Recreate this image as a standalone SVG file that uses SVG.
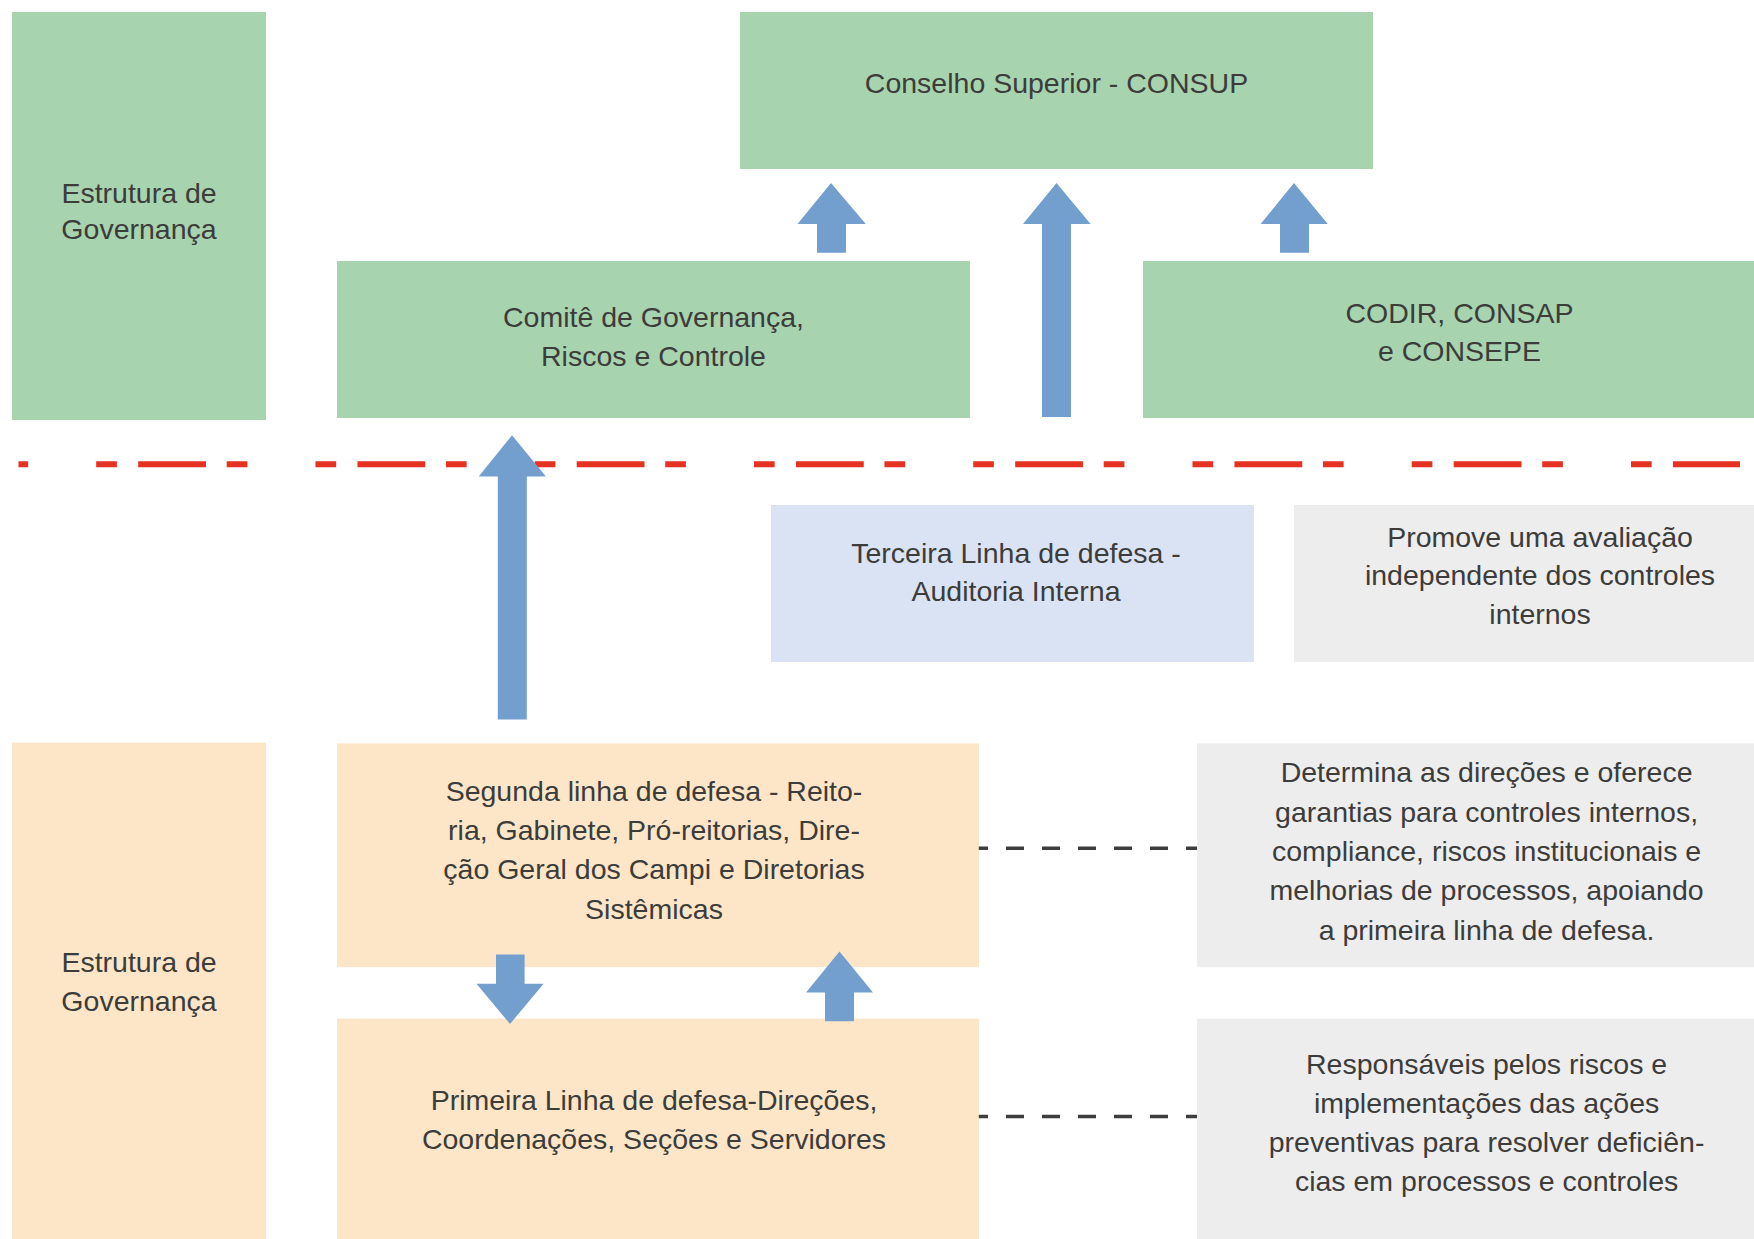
<svg xmlns="http://www.w3.org/2000/svg" width="1754" height="1239" viewBox="0 0 1754 1239">
<style>
.t{font-family:"Liberation Sans",Arial,sans-serif;font-size:28.5px;fill:#3c3c3b;text-anchor:middle}
.green{fill:#a8d3af}
.orange{fill:#fde6c7}
.blue{fill:#dae3f3}
.gray{fill:#ededed}
.arrow{fill:#739fcf}
.red{stroke:#e63222;stroke-width:6;fill:none}
.dash{stroke:#3d3d3d;stroke-width:3.5;fill:none;stroke-dasharray:18 18}
</style>
<rect width="1754" height="1239" fill="#ffffff"/>
<g id="estrutura-top">
<rect class="green" x="12" y="12" width="254" height="408"/>
<text class="t" x="139" y="202.5">Estrutura de</text>
<text class="t" x="139" y="239.2">Governança</text>
</g>
<g id="consup">
<rect class="green" x="740" y="12" width="633" height="157"/>
<text class="t" x="1056.5" y="93">Conselho Superior - CONSUP</text>
</g>
<g id="comite">
<rect class="green" x="337" y="261" width="633" height="157"/>
<text class="t" x="653.5" y="327.4">Comitê de Governança,</text>
<text class="t" x="653.5" y="366.2">Riscos e Controle</text>
</g>
<g id="codir">
<rect class="green" x="1143" y="261" width="611" height="157"/>
<text class="t" x="1459.5" y="323.4">CODIR, CONSAP</text>
<text class="t" x="1459.5" y="361.4">e CONSEPE</text>
</g>
<g id="divisor">
<line class="red" x1="18.5" y1="464.3" x2="1740" y2="464.3" stroke-dasharray="20.7 21.3 67.8 20.7 20.7 68.05" stroke-dashoffset="141.55"/>
</g>
<g id="terceira">
<rect class="blue" x="771" y="505" width="483" height="157"/>
<text class="t" x="1016" y="562.7">Terceira Linha de defesa -</text>
<text class="t" x="1016" y="601">Auditoria Interna</text>
</g>
<g id="promove">
<rect class="gray" x="1294" y="505" width="460" height="157"/>
<text class="t" x="1540" y="546.9">Promove uma avaliação</text>
<text class="t" x="1540" y="585.2">independente dos controles</text>
<text class="t" x="1540" y="623.5">internos</text>
</g>
<g id="estrutura-bottom">
<rect class="orange" x="12" y="742.6" width="254" height="496.4"/>
<text class="t" x="139" y="971.9">Estrutura de</text>
<text class="t" x="139" y="1010.7">Governança</text>
</g>
<g id="segunda">
<rect class="orange" x="337" y="743.4" width="642" height="223.8"/>
<text class="t" x="654" y="801.1">Segunda linha de defesa - Reito-</text>
<text class="t" x="654" y="840">ria, Gabinete, Pró-reitorias, Dire-</text>
<text class="t" x="654" y="879">ção Geral dos Campi e Diretorias</text>
<text class="t" x="654" y="918.5">Sistêmicas</text>
</g>
<g id="primeira">
<rect class="orange" x="337" y="1018.6" width="642" height="220.4"/>
<text class="t" x="654" y="1110.3">Primeira Linha de defesa-Direções,</text>
<text class="t" x="654" y="1149">Coordenações, Seções e Servidores</text>
</g>
<g id="determina">
<rect class="gray" x="1197" y="743.4" width="557" height="223.8"/>
<text class="t" x="1486.6" y="782.1">Determina as direções e oferece</text>
<text class="t" x="1486.6" y="821.5">garantias para controles internos,</text>
<text class="t" x="1486.6" y="860.6">compliance, riscos institucionais e</text>
<text class="t" x="1486.6" y="900.2">melhorias de processos, apoiando</text>
<text class="t" x="1486.6" y="939.5">a primeira linha de defesa.</text>
</g>
<g id="responsaveis">
<rect class="gray" x="1197" y="1018.6" width="557" height="220.4"/>
<text class="t" x="1486.6" y="1073.9">Responsáveis pelos riscos e</text>
<text class="t" x="1486.6" y="1113">implementações das ações</text>
<text class="t" x="1486.6" y="1152">preventivas para resolver deficiên-</text>
<text class="t" x="1486.6" y="1191.4">cias em processos e controles</text>
</g>
<g id="connectors">
<polygon class="arrow" points="831,183 865.8,224 846,224 846,252.7 817,252.7 817,224 797.5,224"/>
<polygon class="arrow" points="1056.5,183 1090.6,224 1071,224 1071,417 1042,417 1042,224 1023,224"/>
<polygon class="arrow" points="1294,183 1327.8,224 1309,224 1309,252.7 1280,252.7 1280,224 1260.7,224"/>
<polygon class="arrow" points="512,435.3 545.9,476.5 526.8,476.5 526.8,719.6 497.8,719.6 497.8,476.5 478.7,476.5"/>
<polygon class="arrow" points="496,954.5 524.6,954.5 524.6,983.8 543.6,983.8 510,1024 476.5,983.8 496,983.8"/>
<polygon class="arrow" points="839.5,951.4 873,992.5 854,992.5 854,1021.3 825,1021.3 825,992.5 806,992.5"/>
<line class="dash" x1="978.8" y1="848.2" x2="1197" y2="848.2" stroke-dashoffset="8.8"/>
<line class="dash" x1="978.8" y1="1116.4" x2="1197" y2="1116.4" stroke-dashoffset="8.8"/>
</g>
</svg>
